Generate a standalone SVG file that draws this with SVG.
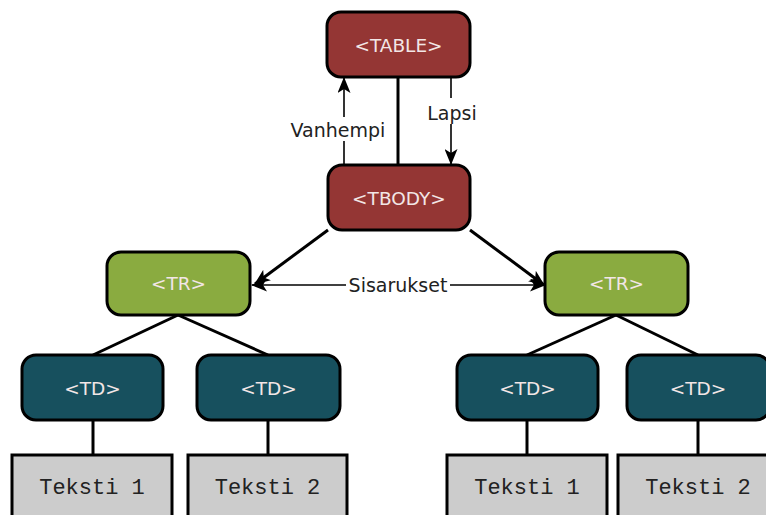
<svg xmlns="http://www.w3.org/2000/svg" width="766" height="515" viewBox="0 0 766 515">
<defs>
<marker id="ah" viewBox="0 0 16 13" refX="15" refY="6.5" markerWidth="16" markerHeight="13" markerUnits="userSpaceOnUse" orient="auto-start-reverse">
<path d="M0,0 L16,6.5 L0,13 L4,6.5 Z" fill="#000"/>
</marker>
<style>
.red{fill:#943634;stroke:#000;stroke-width:3}
.grn{fill:#8aab40;stroke:#000;stroke-width:3}
.teal{fill:#17505e;stroke:#000;stroke-width:3}
.txtbox{fill:#cccccc;stroke:#000;stroke-width:3}
.nl{font-family:"DejaVu Sans",Verdana,sans-serif;font-size:18.5px;fill:#f2e6e6;text-anchor:middle}
.tl{font-family:"Liberation Mono","Courier New",monospace;font-size:22px;fill:#222;text-anchor:middle}
.lab{font-family:"DejaVu Sans",Tahoma,sans-serif;font-size:19px;fill:#222;text-anchor:middle}
.thick{stroke:#000;stroke-width:3;fill:none}
.thin{stroke:#000;stroke-width:1.6;fill:none}
</style>
</defs>
<rect width="766" height="515" fill="#fff"/>
<g id="connectors">
<line class="thick" x1="398" y1="77" x2="398" y2="165"/>
<line class="thin" x1="344" y1="165" x2="344" y2="78" marker-end="url(#ah)"/>
<line class="thin" x1="451" y1="77" x2="451" y2="164" marker-end="url(#ah)"/>
<line class="thick" x1="328" y1="230" x2="255" y2="284" marker-end="url(#ah)"/>
<line class="thick" x1="470" y1="230" x2="544" y2="285" marker-end="url(#ah)"/>
<line class="thin" x1="252" y1="285" x2="545" y2="285" marker-start="url(#ah)" marker-end="url(#ah)"/>
<line class="thick" x1="178" y1="315" x2="93" y2="355"/>
<line class="thick" x1="178" y1="315" x2="268" y2="355"/>
<line class="thick" x1="616" y1="315" x2="527" y2="355"/>
<line class="thick" x1="616" y1="315" x2="698" y2="355"/>
<line class="thick" x1="93" y1="420" x2="93" y2="455"/>
<line class="thick" x1="268" y1="420" x2="268" y2="455"/>
<line class="thick" x1="527" y1="420" x2="527" y2="455"/>
<line class="thick" x1="698" y1="420" x2="698" y2="455"/>
<rect x="288" y="117" width="100" height="24" fill="#fff"/>
<text class="lab" x="338" y="137">Vanhempi</text>
<rect x="426" y="98" width="52" height="26" fill="#fff"/>
<text class="lab" x="452" y="120">Lapsi</text>
<rect x="346" y="272" width="104" height="26" fill="#fff"/>
<text class="lab" x="398" y="292">Sisarukset</text>
</g>
<g id="table"><rect class="red" x="327" y="12" width="143" height="65" rx="14"/><text class="nl" x="398.5" y="52">&lt;TABLE&gt;</text></g>
<g id="tbody"><rect class="red" x="328" y="165" width="142" height="65" rx="14"/><text class="nl" x="399" y="205">&lt;TBODY&gt;</text></g>
<g id="tr1"><rect class="grn" x="107" y="252" width="143" height="63" rx="14"/><text class="nl" x="178.5" y="290">&lt;TR&gt;</text></g>
<g id="tr2"><rect class="grn" x="545" y="252" width="143" height="63" rx="14"/><text class="nl" x="616.5" y="290">&lt;TR&gt;</text></g>
<g id="td1"><rect class="teal" x="22" y="355" width="141" height="65" rx="14"/><text class="nl" x="92.5" y="395">&lt;TD&gt;</text></g>
<g id="td2"><rect class="teal" x="197" y="355" width="143" height="65" rx="14"/><text class="nl" x="268.5" y="395">&lt;TD&gt;</text></g>
<g id="td3"><rect class="teal" x="457" y="355" width="141" height="65" rx="14"/><text class="nl" x="527.5" y="395">&lt;TD&gt;</text></g>
<g id="td4"><rect class="teal" x="627" y="355" width="143" height="65" rx="14"/><text class="nl" x="698" y="395">&lt;TD&gt;</text></g>
<g id="text1"><rect class="txtbox" x="12" y="455" width="160" height="70"/><text class="tl" x="92" y="494">Teksti 1</text></g>
<g id="text2"><rect class="txtbox" x="188" y="455" width="159" height="70"/><text class="tl" x="267.5" y="494">Teksti 2</text></g>
<g id="text3"><rect class="txtbox" x="447" y="455" width="160" height="70"/><text class="tl" x="527" y="494">Teksti 1</text></g>
<g id="text4"><rect class="txtbox" x="618" y="455" width="160" height="70"/><text class="tl" x="698" y="494">Teksti 2</text></g>
</svg>
